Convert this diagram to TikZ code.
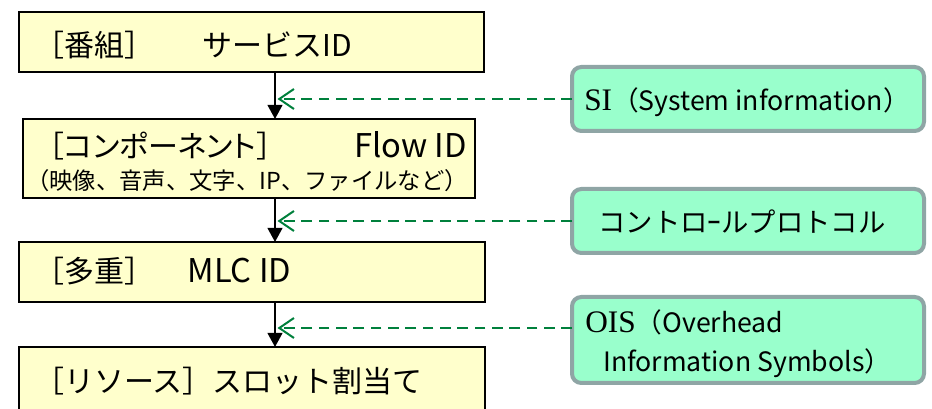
\documentclass[tikz,border=0pt]{standalone}
\usepackage{fontspec}
\setmainfont{Noto Sans CJK JP}
\newfontfamily\jppfont[RawFeature=+palt]{Noto Sans CJK JP}
\newfontfamily\romfont{Liberation Serif}
\usetikzlibrary{arrows.meta}
\definecolor{boxyellow}{HTML}{FFFFCC}
\definecolor{boxgreen}{HTML}{99FFCC}
\definecolor{boxgray}{HTML}{8FA5A5}
\definecolor{dashgreen}{HTML}{00803C}
\begin{document}
\begin{tikzpicture}[x=0.75pt,y=-0.75pt,
  ybox/.style={draw=black,line width=1.5pt,fill=boxyellow,rectangle,anchor=north west,inner sep=0pt,outer sep=0pt},
  gbox/.style={draw=boxgray,line width=3pt,fill=boxgreen,rounded corners=7pt,rectangle,anchor=north west,inner sep=0pt,outer sep=0pt,minimum width=264pt},
  bigtxt/.style={anchor=base west,inner sep=0pt,font=\fontsize{22.5pt}{27pt}\selectfont},
  smalltxt/.style={anchor=base,inner sep=0pt,font=\fontsize{17.5pt}{21pt}\selectfont},
  sitxt/.style={anchor=base west,inner sep=0pt,font=\fontsize{20pt}{24pt}\selectfont},
  flow/.style={-{Triangle[length=10.5pt,width=11pt]},line width=1.5pt,draw=black},
  refline/.style={draw=dashgreen,line width=1.5pt,dash pattern=on 8pt off 5pt,-{Straight Barb[length=11pt,width=15pt]}}
]
\useasboundingbox (0,0) rectangle (932,409);
\clip (0,0) rectangle (932,409);

% left column boxes
\node[ybox,minimum width=348.75pt,minimum height=45pt] (b1) at (19,12) {};
\node[ybox,minimum width=339pt,minimum height=59.25pt] (b2) at (23,119) {};
\node[ybox,minimum width=349.5pt,minimum height=45pt] (b3) at (19,242) {};
\node[ybox,minimum width=349.5pt,minimum height=52.5pt] (b4) at (19,347) {};

\node[bigtxt] (t1) at (34,57) {\makebox[126pt][l]{［番組］}サービスID};
\node[bigtxt] (t2a) at (34,157.5) {\makebox[240pt][l]{［{\jppfont コンポーネント}］}{\fontsize{24.5pt}{28pt}\selectfont Flow ID}};
\node[smalltxt] (t2b) at (247,190) {（映像、音声、文字、IP、ファイルなど）};
\node[bigtxt] (t3) at (34,282.5) {\makebox[115pt][l]{［多重］}{\fontsize{24.5pt}{28pt}\selectfont MLC ID}};
\node[bigtxt] (t4) at (34,393) {［リソース］スロット割当て};

% right column boxes
\node[gbox,minimum height=48pt] (si) at (572,67) {};
\node[gbox,minimum height=48pt] (ctrl) at (572,189) {};
\node[gbox,minimum height=64.5pt] (ois) at (572,297) {};

\node[sitxt] (tsi) at (584,111) {{\romfont\fontsize{23.5pt}{27pt}\selectfont SI}（System information）};
\node[anchor=base,inner sep=0pt,font=\fontsize{20.5pt}{24pt}\selectfont] (tctrl) at (742,233) {コントロｰルプロトコル};
\node[sitxt] (tois1) at (585,333) {{\romfont\fontsize{23.5pt}{27pt}\selectfont OIS}（Overhead};
\node[sitxt] (tois2) at (603,372) {Information Symbols）};

% connectors
\coordinate (ax) at (275,0);
\coordinate (axr) at (277.5,0);
\draw[flow] (b1.south -| ax) -- (b2.north -| ax);
\draw[flow] (b2.south -| ax) -- (b3.north -| ax);
\draw[flow] (b3.south -| ax) -- (b4.north -| ax);

\coordinate (o3) at ([yshift=9pt]ois.west);
\draw[refline] (si.west) -- (axr |- si.west);
\draw[refline] (ctrl.west) -- (axr |- ctrl.west);
\draw[refline] (o3) -- (axr |- o3);
\end{tikzpicture}
\end{document}
